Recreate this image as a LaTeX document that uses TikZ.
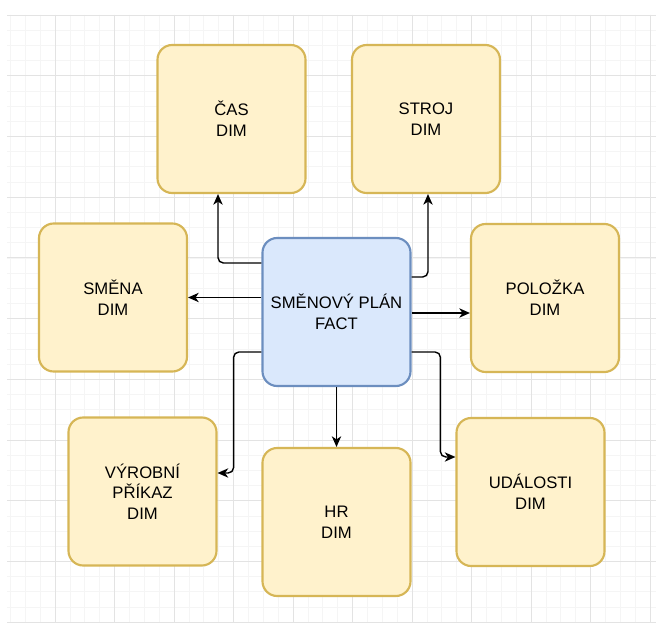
\documentclass[tikz,border=0pt]{standalone}
\usepackage{fontspec}
\usetikzlibrary{arrows.meta,positioning,calc}
\newfontfamily\dimfont{Liberation Sans}
\definecolor{dimfill}{HTML}{FFF2CC}
\definecolor{dimline}{HTML}{D6B656}
\definecolor{factfill}{HTML}{DAE8FC}
\definecolor{factline}{HTML}{6C8EBF}
\tikzset{
  tbl/.style    = {rectangle, rounded corners=11pt, line width=1.6pt,
                   minimum width=111pt, minimum height=111pt, inner sep=2pt,
                   align=center, font=\dimfont\fontsize{12.5}{15.5}\selectfont},
  dimbox/.style  = {tbl, draw=dimline, fill=dimfill},
  factbox/.style = {tbl, draw=factline, fill=factfill},
  ar/.style     = {-{Stealth[length=8pt, width=7pt, inset=2.4pt]},
                   draw=black, line width=1.05pt, rounded corners=4pt}
}

\begin{document}
\begin{tikzpicture}[
    x=0.75pt, y=-0.75pt,
    minorgrid/.style={draw=black!4, line width=0.4pt},
    majorgrid/.style={draw=black!11, line width=0.6pt}
  ]
  \useasboundingbox (0,0) rectangle (656,623);
  \fill[white] (0,0) rectangle (656,623);

  % ===================== mřížka pozadí =====================
  \begin{scope}
    \clip (7,15) rectangle (656,623);
    \foreach \gx in {-4,...,44} \draw[minorgrid] ({55+14.875*\gx},15) -- ({55+14.875*\gx},623);
    \foreach \gy in {0,...,40} \draw[minorgrid] (7,{15+15.175*\gy}) -- (656,{15+15.175*\gy});
    \foreach \gx in {0,...,10} \draw[majorgrid] ({55+59.5*\gx},15) -- ({55+59.5*\gx},623);
    \foreach \gy in {0,...,10} \draw[majorgrid] (7,{15+60.7*\gy}) -- (656,{15+60.7*\gy});
  \end{scope}

  % ===================== fakt uprostřed =====================
  \node[factbox] (plan) at (336.5,312) {SMĚNOVÝ PLÁN\\FACT};

  % ===================== dimenze kolem =====================
  \node[dimbox] (cas)      at (231.5,119) {ČAS\\DIM};
  \node[dimbox] (stroj)    at (426,119)   {STROJ\\DIM};
  \node[dimbox] (smena)    at (113,297.5) {SMĚNA\\DIM};
  \node[dimbox] (polozka)  at (545,298)   {POLOŽKA\\DIM};
  \node[dimbox] (prikaz)   at (142.5,491.5) {VÝROBNÍ\\PŘÍKAZ\\DIM};
  \node[dimbox] (hr)       at (336.5,522) {HR\\DIM};
  \node[dimbox] (udalosti) at (530.5,492) {UDÁLOSTI\\DIM};

  % ===================== spojnice =====================
  \draw[ar] ($(plan.west)+(0,-49)$) -| ($(cas.south)+(-13.5,0)$);
  \draw[ar] ($(plan.east)+(0,-35)$) -| ($(stroj.south)+(2,0)$);
  \draw[ar] (plan.west |- smena.east) -- (smena.east);
  \draw[ar] ($(plan.east)+(0,1)$) -- ($(polozka.west |- plan.east)+(0,1)$);
  \draw[ar] ($(plan.west)+(0,40)$) -| ($(prikaz.east)+(16,-18.5)$) -- ($(prikaz.east)+(0,-18.5)$);
  \draw[ar] (plan.south) -- (hr.north);
  \draw[ar] ($(plan.east)+(0,40)$) -| ($(udalosti.west)+(-15,-35)$) -- ($(udalosti.west)+(0,-35)$);
\end{tikzpicture}
\end{document}
